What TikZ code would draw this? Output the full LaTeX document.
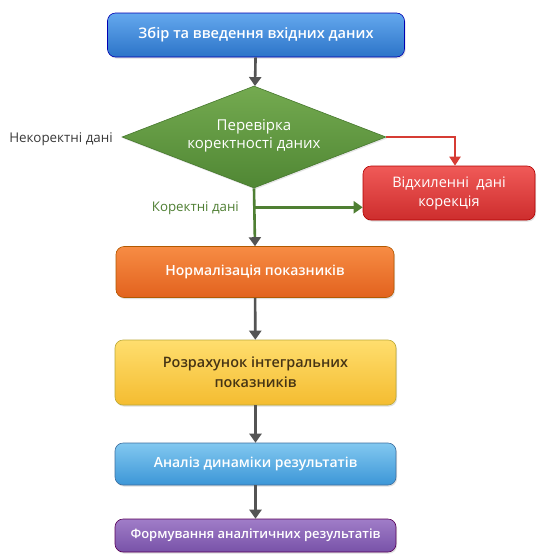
\documentclass[tikz,border=0pt]{standalone}
\usepackage{fontspec}
\setmainfont{Open Sans}
\IfFontExistsTF{Open Sans SemiBold}{\newfontfamily\sbf{Open Sans SemiBold}}{%
  \IfFontExistsTF{Open Sans Semibold}{\newfontfamily\sbf{Open Sans Semibold}}{\newcommand{\sbf}{\bfseries}}}
\usetikzlibrary{shapes.geometric,arrows.meta,shadows}
\definecolor{arr}{HTML}{545454}
\definecolor{grn}{HTML}{4F7F33}
\definecolor{redl}{HTML}{D63C34}
\definecolor{txtd}{HTML}{3A3A3A}
\newcommand{\fs}[2]{\fontsize{#1}{#2}\selectfont}
\tikzset{
  box/.style={draw=#1!70!black, line width=0.6pt, rounded corners=8pt, align=center, text=white, inner sep=0pt,
     drop shadow={shadow xshift=1pt, shadow yshift=-1.5pt, opacity=0.25}},
  flow/.style={arr, line width=2.6pt, -{Triangle[width=12pt,length=9pt]}},
}
\begin{document}
\begin{tikzpicture}[x=1pt,y=1pt]
\useasboundingbox (0,0) rectangle (537,-557);
\fill[white] (0,0) rectangle (537,-557);
% nodes
\node[box=blue, top color={rgb,255:red,100;green,168;blue,238}, bottom color={rgb,255:red,44;green,116;blue,200}, minimum width=297pt, minimum height=44pt, font=\sbf\fs{14.6}{18}] (start) at (256,-35) {Збір та введення вхідних даних};
\node[diamond, shape aspect=2.59, draw={rgb,255:red,70;green,120;blue,45}, line width=0.6pt, top color={rgb,255:red,116;green,170;blue,80}, bottom color={rgb,255:red,80;green,135;blue,52}, minimum width=264pt, minimum height=102pt, inner sep=0pt, align=center, text=white, font=\fs{15}{20}, drop shadow={shadow xshift=1pt, shadow yshift=-1.5pt, opacity=0.2}] (check) at (254,-137) {\raisebox{6pt}{\shortstack{Перевірка\\[1pt]коректності даних}}};
\node[box=red, top color={rgb,255:red,240;green,90;blue,88}, bottom color={rgb,255:red,205;green,45;blue,45}, minimum width=172pt, minimum height=54pt, font=\fs{14.5}{19}] (dev) at (449,-193) {Відхиленні\ \ дані\\корекція};
\node[box=orange, top color={rgb,255:red,247;green,140;blue,68}, bottom color={rgb,255:red,226;green,98;blue,30}, minimum width=278pt, minimum height=51pt, font=\sbf\fs{14}{18}] (norm) at (255,-272) {Нормалізація показників};
\node[box=yellow!80!orange, top color={rgb,255:red,255;green,222;blue,110}, bottom color={rgb,255:red,244;green,188;blue,48}, minimum width=281pt, minimum height=65pt, text={rgb,255:red,70;green,52;blue,20}, font=\sbf\fs{14.4}{20}] (calc) at (255.5,-372.5) {Розрахунок інтегральних\\показників};
\node[box=cyan!60!blue, top color={rgb,255:red,130;green,200;blue,240}, bottom color={rgb,255:red,60;green,150;blue,215}, minimum width=281pt, minimum height=42pt, font=\sbf\fs{14}{18}] (anal) at (255.5,-464) {Аналіз динаміки результатів};
\node[box=violet, top color={rgb,255:red,160;green,125;blue,200}, bottom color={rgb,255:red,120;green,82;blue,168}, minimum width=281pt, minimum height=33pt, font=\sbf\fs{13}{16}] (form) at (255.5,-535.5) {Формування аналітичних результатів};
% labels
\node[text=txtd, font=\fs{13.4}{16}, anchor=east, inner sep=0pt] (lbad) at (113,-139) {Некоректні дані};
\node[text=grn, font=\fs{13.3}{16}, anchor=east, inner sep=0pt] (lgood) at (239,-208) {Коректні дані};
% connectors
\draw[flow] (start) -- (check);
\draw[redl, line width=2pt, -{Triangle[width=11pt,length=9pt]}] (check.east) -| ([xshift=6pt]dev.north);
\coordinate (br) at ([yshift=-19pt]check.south);
\draw[grn, line width=2.6pt, -{Triangle[width=12pt,length=9pt,color=arr]}] (check.south) -- (norm.north);
\draw[grn, line width=2.6pt, -{Triangle[width=12pt,length=9pt]}] (br) -- (br -| dev.west);
\draw[flow] (norm) -- (calc);
\draw[flow] (calc) -- (anal);
\draw[flow] (anal) -- (form);
\end{tikzpicture}
\end{document}
